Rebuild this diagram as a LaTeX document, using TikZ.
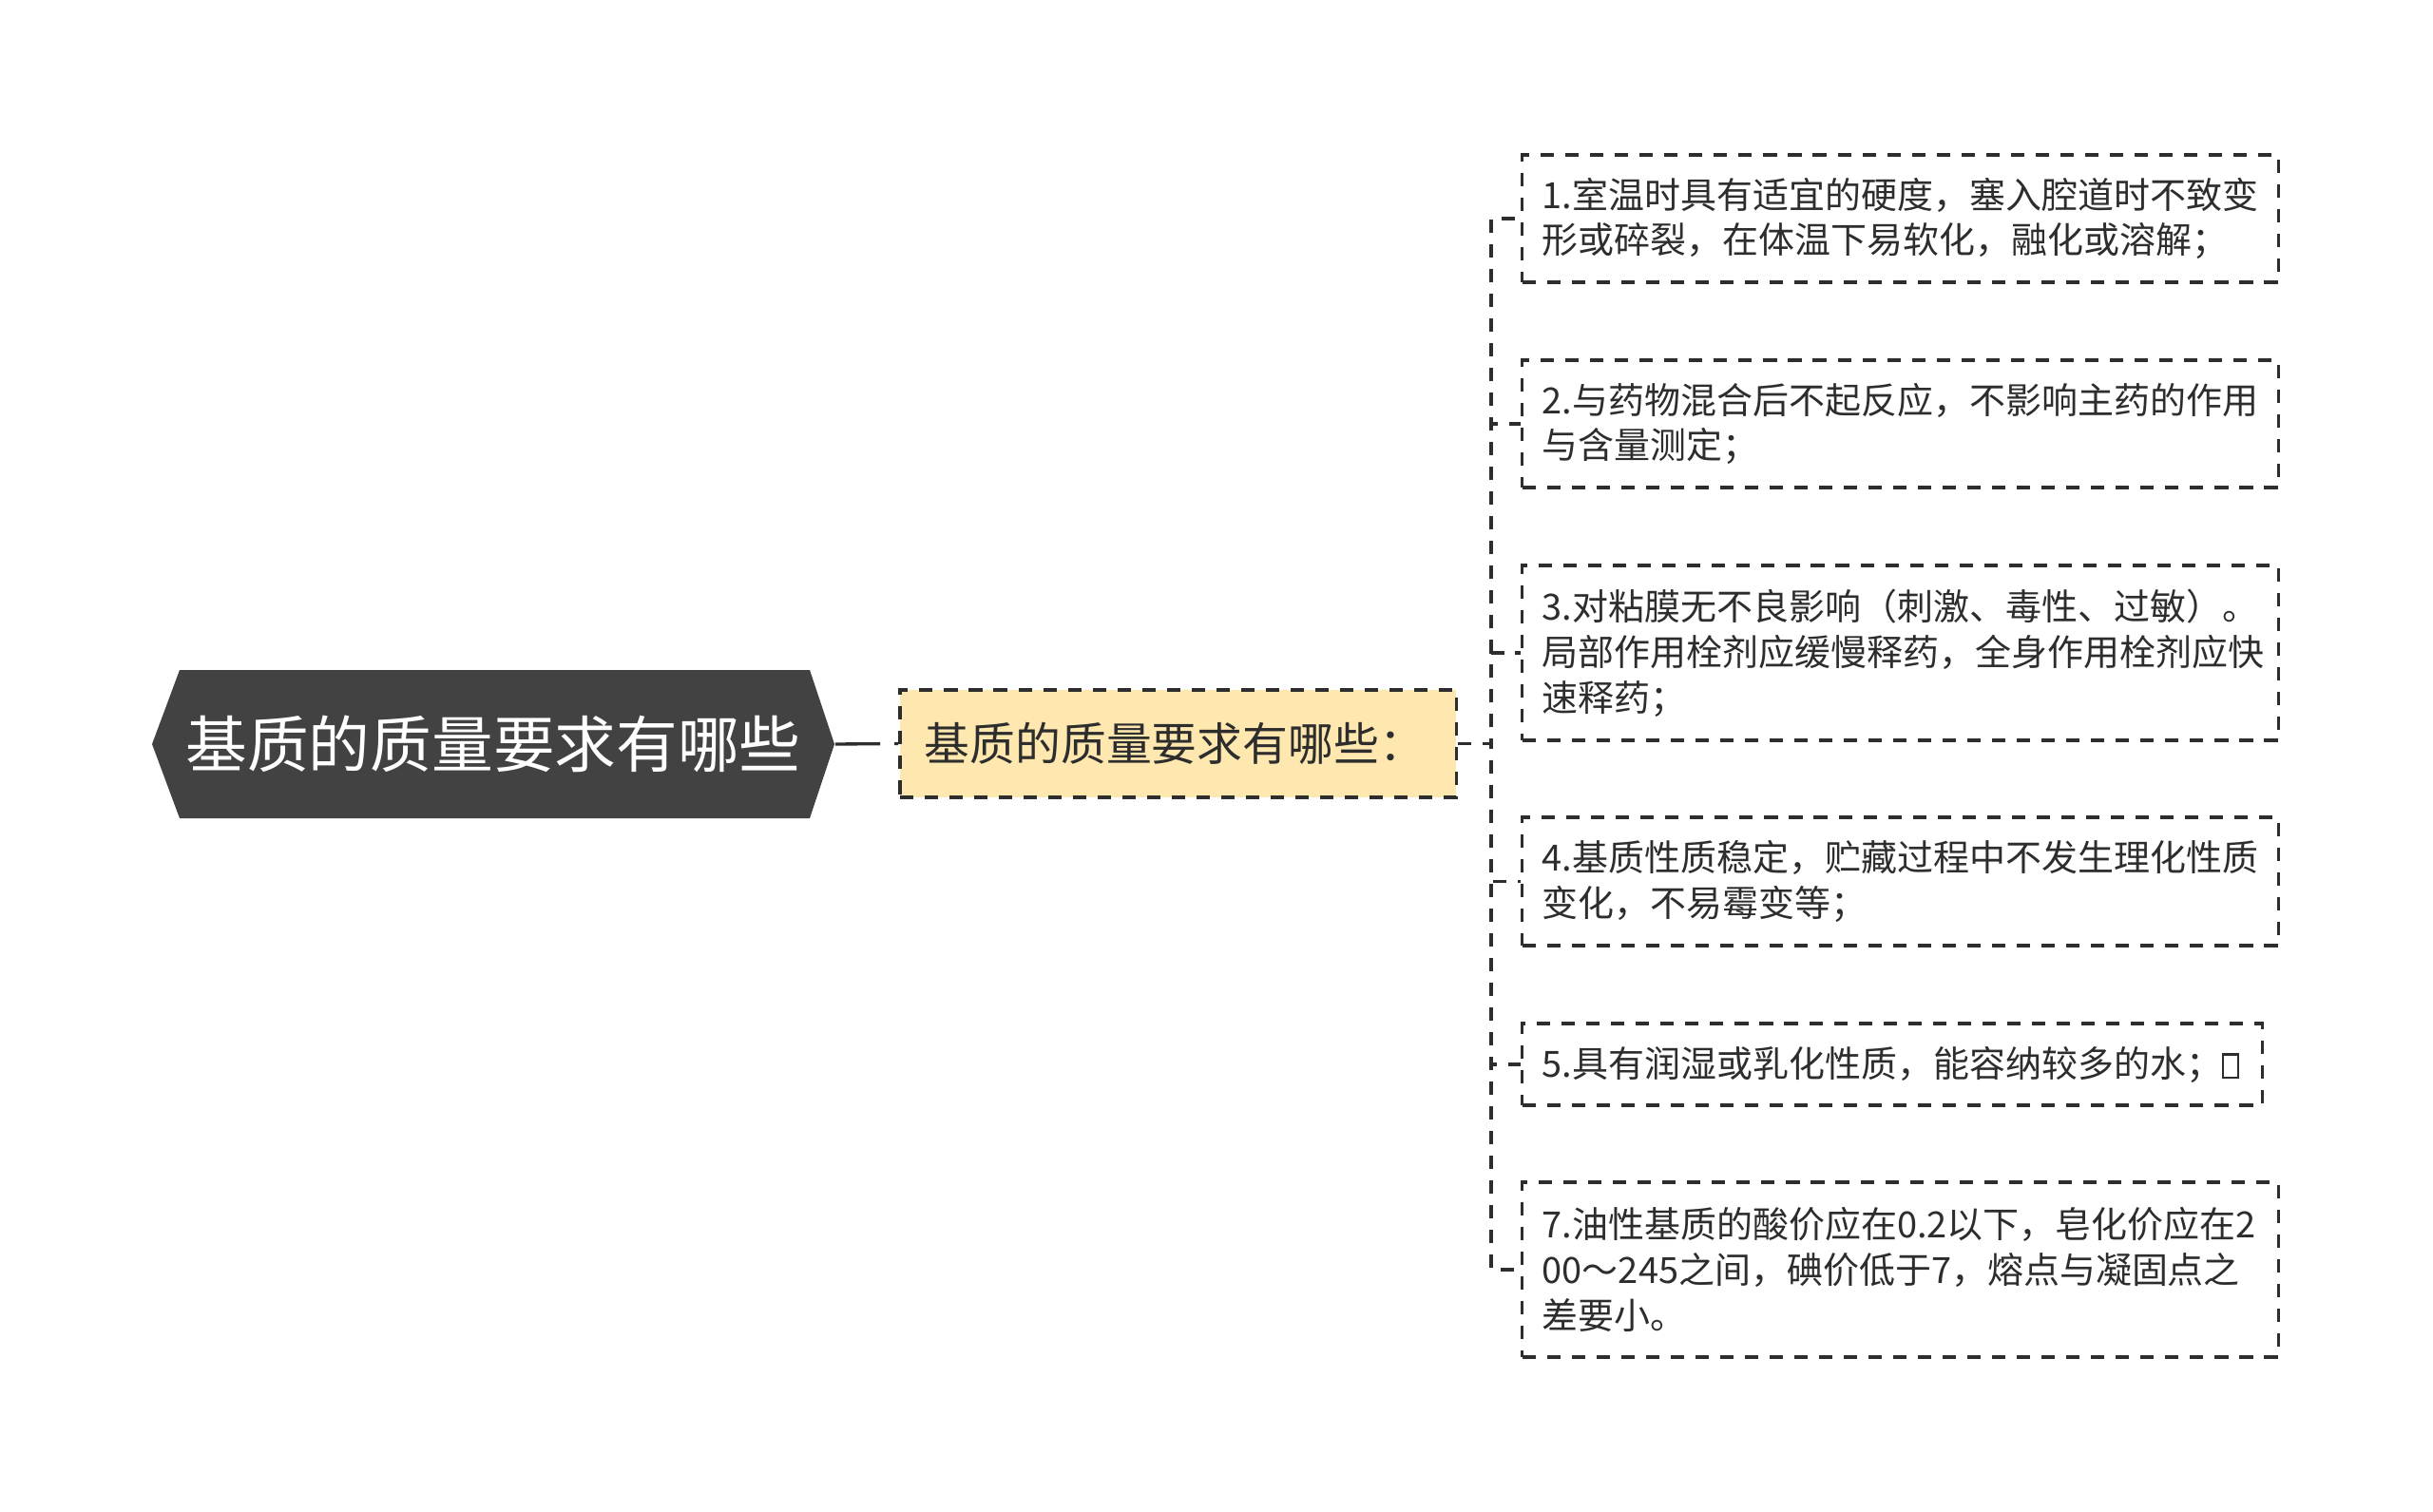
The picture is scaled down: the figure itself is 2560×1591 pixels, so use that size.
\documentclass[tikz,border=0pt]{standalone}
\usepackage{fontspec}
\setmainfont{Noto Sans CJK SC}
\definecolor{hexgray}{RGB}{66,66,66}
\definecolor{subfill}{RGB}{255,232,175}
\definecolor{inkgray}{RGB}{45,45,45}
\newcommand{\tofu}{{\fboxsep=0pt\fboxrule=0.6pt\fbox{\rule{0pt}{6.4pt}\hspace{4pt}}}}

\begin{document}
\begin{tikzpicture}[x=0.01cm, y=-0.01cm,
  every node/.style={text=inkgray},
  root/.style={minimum width=7.18cm, minimum height=1.56cm, inner sep=0pt,
    text=white, font=\fontsize{18.4pt}{22pt}\selectfont},
  sub/.style={draw=inkgray, fill=subfill, line width=0.95pt, dash pattern=on 4pt off 3.4pt,
    minimum height=1.13cm, text width=5.33cm, inner xsep=0.26cm, align=left,
    font=\fontsize{13.6pt}{16pt}\selectfont},
  leaf/.style={draw=inkgray, line width=0.95pt, dash pattern=on 4pt off 3.4pt,
    text width=7.53cm, inner xsep=0.21cm, align=left,
    font=\fontsize{10.8pt}{13.6pt}\selectfont},
  link/.style={draw=inkgray, line width=0.95pt, dash pattern=on 4pt off 3.4pt}]

  \useasboundingbox (0,0) rectangle (2560,1591);

  \fill[hexgray] (160,783) -- (189,705) -- (852,705) -- (878,783) -- (852,861) -- (189,861) -- cycle;
  \node[root] (root) at (519,783) {基质的质量要求有哪些};

  \node[sub] (sub) at (1239.5,782.5) {基质的质量要求有哪些：};

  \node[leaf, minimum height=1.34cm] (q1) at (1999.5,230)
    {1.室温时具有适宜的硬度，塞入腔道时不致变\\形或碎裂，在体温下易软化，融化或溶解；};
  \node[leaf, minimum height=1.34cm] (q2) at (1999.5,446)
    {2.与药物混合后不起反应，不影响主药的作用\\与含量测定；};
  \node[leaf, minimum height=1.84cm] (q3) at (1999.5,687)
    {3.对粘膜无不良影响（刺激、毒性、过敏）。\\局部作用栓剂应缓慢释药，全身作用栓剂应快\\速释药；};
  \node[leaf, minimum height=1.35cm] (q4) at (1999.5,927.5)
    {4.基质性质稳定，贮藏过程中不发生理化性质\\变化，不易霉变等；};
  \node[leaf, minimum height=0.86cm, text width=7.36cm] (q5) at (1991,1120)
    {5.具有润湿或乳化性质，能容纳较多的水；\tofu};
  \node[leaf, minimum height=1.84cm] (q7) at (1999.5,1336)
    {7.油性基质的酸价应在0.2以下，皂化价应在2\\00～245之间，碘价低于7，熔点与凝固点之\\差要小。};

  \draw[link, dash pattern=on 13.4pt off 4.3pt] (root.east) -- (sub.west);
  \foreach \q in {q1,q2,q3,q4,q5,q7}
    \draw[link] (sub.east) -- ++(35,0) |- (\q.west);

\end{tikzpicture}
\end{document}
